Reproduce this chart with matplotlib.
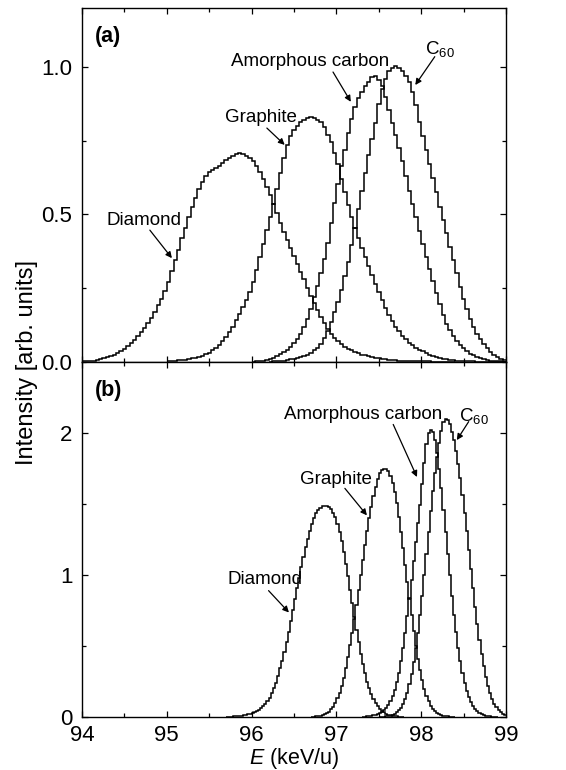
import numpy as np
import matplotlib
matplotlib.use("Agg")
import matplotlib.pyplot as plt
from matplotlib.ticker import MultipleLocator, FormatStrFormatter

plt.rcParams["font.family"] = ["Liberation Sans", "DejaVu Sans"]
plt.rcParams["mathtext.fontset"] = "custom"
plt.rcParams["mathtext.rm"] = "Liberation Sans"
plt.rcParams["mathtext.it"] = "Liberation Sans:italic"

# ---- panel (a): bin width 0.04 keV/u, first bin starts at the given energy ----
BIN_A = 0.04
DIAMOND_A_START = 94.00
DIAMOND_A = [0.002, 0.003, 0.004, 0.005, 0.007, 0.009, 0.012, 0.016, 0.020, 0.025,
             0.030, 0.037, 0.045, 0.054, 0.064, 0.075, 0.087, 0.100, 0.115, 0.132,
             0.150, 0.170, 0.192, 0.215, 0.240, 0.270, 0.310, 0.345, 0.380, 0.420,
             0.455, 0.490, 0.525, 0.555, 0.585, 0.610, 0.630, 0.645, 0.652, 0.658,
             0.665, 0.675, 0.685, 0.690, 0.698, 0.705, 0.710, 0.704, 0.698, 0.690,
             0.680, 0.665, 0.645, 0.620, 0.594, 0.565, 0.535, 0.505, 0.472, 0.440,
             0.412, 0.385, 0.360, 0.333, 0.306, 0.280, 0.252, 0.225, 0.200, 0.175,
             0.152, 0.132, 0.112, 0.096, 0.082, 0.070, 0.060, 0.052, 0.045, 0.039,
             0.033, 0.029, 0.025, 0.022, 0.019, 0.016, 0.014, 0.012, 0.010, 0.009,
             0.008, 0.007, 0.006, 0.005, 0.004, 0.004, 0.003, 0.003, 0.003, 0.002,
             0.002, 0.002, 0.002, 0.001, 0.001, 0.001, 0.001, 0.001, 0.001, 0.001]

GRAPHITE_A_START = 95.00
GRAPHITE_A = [0.003, 0.004, 0.005, 0.006, 0.007, 0.008, 0.010, 0.012, 0.014, 0.017,
              0.021, 0.026, 0.032, 0.039, 0.048, 0.058, 0.071, 0.085, 0.101, 0.120,
              0.141, 0.163, 0.186, 0.209, 0.238, 0.271, 0.312, 0.356, 0.400, 0.447,
              0.492, 0.537, 0.585, 0.640, 0.690, 0.735, 0.765, 0.785, 0.800, 0.812,
              0.820, 0.826, 0.830, 0.826, 0.820, 0.812, 0.795, 0.770, 0.745, 0.710,
              0.670, 0.620, 0.575, 0.532, 0.492, 0.455, 0.420, 0.385, 0.355, 0.325,
              0.296, 0.266, 0.236, 0.209, 0.183, 0.159, 0.138, 0.120, 0.104, 0.089,
              0.077, 0.066, 0.057, 0.049, 0.042, 0.036, 0.030, 0.025, 0.021, 0.017,
              0.014, 0.011, 0.009, 0.008, 0.006, 0.005, 0.004, 0.003, 0.003, 0.002,
              0.002, 0.001, 0.001, 0.001, 0.001, 0.001, 0.001, 0.001, 0.001, 0.001]

AMORPHOUS_A_START = 96.00
AMORPHOUS_A = [0.001, 0.002, 0.003, 0.005, 0.007, 0.010, 0.015, 0.020, 0.027, 0.035,
               0.042, 0.052, 0.064, 0.077, 0.095, 0.118, 0.145, 0.180, 0.220, 0.258,
               0.300, 0.350, 0.405, 0.470, 0.540, 0.605, 0.665, 0.720, 0.775, 0.825,
               0.865, 0.895, 0.915, 0.935, 0.950, 0.965, 0.970, 0.955, 0.935, 0.900,
               0.855, 0.810, 0.770, 0.725, 0.680, 0.630, 0.580, 0.535, 0.490, 0.445,
               0.400, 0.355, 0.315, 0.275, 0.235, 0.195, 0.160, 0.130, 0.107, 0.088,
               0.071, 0.057, 0.046, 0.036, 0.028, 0.022, 0.017, 0.013, 0.010, 0.007,
               0.005, 0.004, 0.003, 0.002, 0.001]

C60_A_START = 96.20
C60_A = [0.001, 0.002, 0.003, 0.004, 0.005, 0.007, 0.009, 0.011, 0.014, 0.017,
         0.021, 0.025, 0.031, 0.039, 0.049, 0.062, 0.080, 0.105, 0.135, 0.168,
         0.205, 0.245, 0.290, 0.340, 0.395, 0.455, 0.520, 0.580, 0.640, 0.700,
         0.755, 0.810, 0.875, 0.925, 0.960, 0.985, 0.998, 1.005, 0.995, 0.985,
         0.970, 0.950, 0.915, 0.870, 0.815, 0.765, 0.720, 0.670, 0.625, 0.575,
         0.527, 0.480, 0.436, 0.390, 0.345, 0.300, 0.255, 0.215, 0.178, 0.145,
         0.118, 0.096, 0.077, 0.060, 0.046, 0.034, 0.025, 0.017, 0.011, 0.007]

# ---- panel (b): bin width 0.025 keV/u ----
BIN_B = 0.025
DIAMOND_B_START = 95.70
DIAMOND_B = [0.001, 0.002, 0.003, 0.004, 0.005, 0.006, 0.008, 0.010, 0.012, 0.015,
             0.018, 0.022, 0.027, 0.033, 0.041, 0.050, 0.061, 0.075, 0.092, 0.112,
             0.137, 0.167, 0.202, 0.243, 0.290, 0.342, 0.398, 0.460, 0.527, 0.598,
             0.675, 0.752, 0.830, 0.905, 0.980, 1.055, 1.130, 1.195, 1.255, 1.310,
             1.360, 1.400, 1.435, 1.460, 1.475, 1.484, 1.488, 1.487, 1.480, 1.465,
             1.440, 1.405, 1.360, 1.305, 1.240, 1.165, 1.080, 0.990, 0.895, 0.800,
             0.705, 0.612, 0.525, 0.445, 0.372, 0.307, 0.250, 0.201, 0.160, 0.126,
             0.098, 0.075, 0.057, 0.043, 0.032, 0.024, 0.017, 0.012, 0.009, 0.006,
             0.004, 0.003, 0.002, 0.001]

GRAPHITE_B_START = 96.70
GRAPHITE_B = [0.002, 0.003, 0.004, 0.006, 0.009, 0.013, 0.019, 0.027, 0.038, 0.053,
              0.073, 0.099, 0.132, 0.172, 0.220, 0.278, 0.345, 0.420, 0.505, 0.595,
              0.690, 0.790, 0.895, 1.000, 1.105, 1.210, 1.310, 1.400, 1.480, 1.555,
              1.620, 1.675, 1.715, 1.738, 1.748, 1.745, 1.730, 1.700, 1.650, 1.585,
              1.505, 1.410, 1.305, 1.190, 1.070, 0.950, 0.830, 0.715, 0.605, 0.503,
              0.410, 0.328, 0.258, 0.198, 0.150, 0.111, 0.081, 0.058, 0.041, 0.029,
              0.020, 0.014, 0.009, 0.006, 0.004, 0.003, 0.002, 0.001]

AMORPHOUS_B_START = 97.30
AMORPHOUS_B = [0.002, 0.003, 0.004, 0.006, 0.008, 0.011, 0.015, 0.020, 0.027, 0.036,
               0.048, 0.064, 0.085, 0.112, 0.146, 0.190, 0.245, 0.312, 0.393, 0.488,
               0.595, 0.712, 0.837, 0.968, 1.100, 1.235, 1.368, 1.495, 1.640, 1.790,
               1.920, 2.000, 2.020, 2.005, 1.950, 1.860, 1.745, 1.610, 1.460, 1.305,
               1.150, 1.000, 0.855, 0.720, 0.598, 0.488, 0.392, 0.310, 0.242, 0.186,
               0.141, 0.106, 0.079, 0.058, 0.042, 0.030, 0.021, 0.015, 0.010, 0.007,
               0.005, 0.003, 0.002, 0.001]

C60_B_START = 97.50
C60_B = [0.001, 0.002, 0.003, 0.005, 0.007, 0.010, 0.015, 0.022, 0.032, 0.046,
         0.066, 0.092, 0.127, 0.172, 0.230, 0.300, 0.385, 0.483, 0.595, 0.720,
         0.855, 1.000, 1.150, 1.300, 1.450, 1.590, 1.720, 1.830, 1.930, 2.015,
         2.075, 2.100, 2.090, 2.060, 2.010, 1.950, 1.870, 1.780, 1.680, 1.565,
         1.440, 1.310, 1.175, 1.040, 0.905, 0.775, 0.655, 0.545, 0.445, 0.358,
         0.283, 0.220, 0.168, 0.126, 0.093, 0.068, 0.049, 0.034, 0.023, 0.015]

LABELS = ["Diamond", "Graphite", "Amorphous carbon", r"C$_{\mathregular{60}}$"]

TICK_FS = 16
NOTE_FS = 13.5


def draw_steps(ax, start, values, width):
    edges = start + width * np.arange(len(values) + 1)
    ax.stairs(values, edges, color="black", lw=1.1, baseline=None)


def style_axis(ax):
    ax.set_xlim(94, 99)
    ax.xaxis.set_major_locator(MultipleLocator(1))
    ax.xaxis.set_minor_locator(MultipleLocator(0.5))
    ax.tick_params(which="both", direction="in", top=True, right=True,
                   labelsize=TICK_FS)
    ax.tick_params(which="major", length=4.5, width=0.9)
    ax.tick_params(which="minor", length=3, width=0.9)
    ax.tick_params(axis="y", pad=7)
    ax.tick_params(axis="x", pad=6)
    for s in ax.spines.values():
        s.set_linewidth(1.0)


def arrow(ax, start, end):
    ax.annotate("", xy=end, xytext=start,
                arrowprops=dict(arrowstyle="-|>", color="black", lw=0.9,
                                mutation_scale=9, shrinkA=0, shrinkB=0))


fig = plt.figure(figsize=(5.66, 7.70), dpi=100)
ax_a = fig.add_axes([0.1449, 0.5299, 0.7491, 0.4597])
ax_b = fig.add_axes([0.1449, 0.0688, 0.7491, 0.4611])

# panel (a)
draw_steps(ax_a, DIAMOND_A_START, DIAMOND_A, BIN_A)
draw_steps(ax_a, GRAPHITE_A_START, GRAPHITE_A, BIN_A)
draw_steps(ax_a, AMORPHOUS_A_START, AMORPHOUS_A, BIN_A)
draw_steps(ax_a, C60_A_START, C60_A, BIN_A)
style_axis(ax_a)
ax_a.set_ylim(0, 1.2)
ax_a.yaxis.set_major_locator(MultipleLocator(0.5))
ax_a.yaxis.set_minor_locator(MultipleLocator(0.25))
ax_a.yaxis.set_major_formatter(FormatStrFormatter("%.1f"))
ax_a.tick_params(labelbottom=False)
ax_a.text(0.03, 0.92, "(a)", transform=ax_a.transAxes, fontsize=15.5,
          fontweight="bold", va="center", ha="left")

ax_a.text(94.73, 0.48, LABELS[0], fontsize=NOTE_FS, ha="center", va="center")
arrow(ax_a, (94.80, 0.447), (95.06, 0.352))
ax_a.text(96.11, 0.83, LABELS[1], fontsize=NOTE_FS, ha="center", va="center")
arrow(ax_a, (96.18, 0.793), (96.39, 0.736))
ax_a.text(96.69, 1.017, LABELS[2], fontsize=NOTE_FS, ha="center", va="center")
arrow(ax_a, (96.96, 0.983), (97.17, 0.882))
ax_a.text(98.22, 1.06, LABELS[3], fontsize=NOTE_FS, ha="center", va="center")
arrow(ax_a, (98.16, 1.035), (97.93, 0.939))

# panel (b)
draw_steps(ax_b, DIAMOND_B_START, DIAMOND_B, BIN_B)
draw_steps(ax_b, GRAPHITE_B_START, GRAPHITE_B, BIN_B)
draw_steps(ax_b, AMORPHOUS_B_START, AMORPHOUS_B, BIN_B)
draw_steps(ax_b, C60_B_START, C60_B, BIN_B)
style_axis(ax_b)
ax_b.set_ylim(0, 2.5)
ax_b.yaxis.set_major_locator(MultipleLocator(1))
ax_b.yaxis.set_minor_locator(MultipleLocator(0.5))
ax_b.text(0.03, 0.92, "(b)", transform=ax_b.transAxes, fontsize=15.5,
          fontweight="bold", va="center", ha="left")

ax_b.text(96.16, 0.97, LABELS[0], fontsize=NOTE_FS, ha="center", va="center")
arrow(ax_b, (96.20, 0.89), (96.44, 0.736))
ax_b.text(97.0, 1.67, LABELS[1], fontsize=NOTE_FS, ha="center", va="center")
arrow(ax_b, (97.10, 1.61), (97.36, 1.42))
ax_b.text(97.32, 2.13, LABELS[2], fontsize=NOTE_FS, ha="center", va="center")
arrow(ax_b, (97.67, 2.06), (97.95, 1.69))
ax_b.text(98.62, 2.12, LABELS[3], fontsize=NOTE_FS, ha="center", va="center")
arrow(ax_b, (98.56, 2.08), (98.42, 1.95))

ax_b.set_xlabel(r"$\mathit{E}$ (keV/u)", fontsize=15.5, labelpad=0)
fig.text(0.048, 0.529, "Intensity [arb. units]", rotation=90, fontsize=17,
         ha="center", va="center")

fig.savefig("out.png", dpi=100)
plt.close(fig)
